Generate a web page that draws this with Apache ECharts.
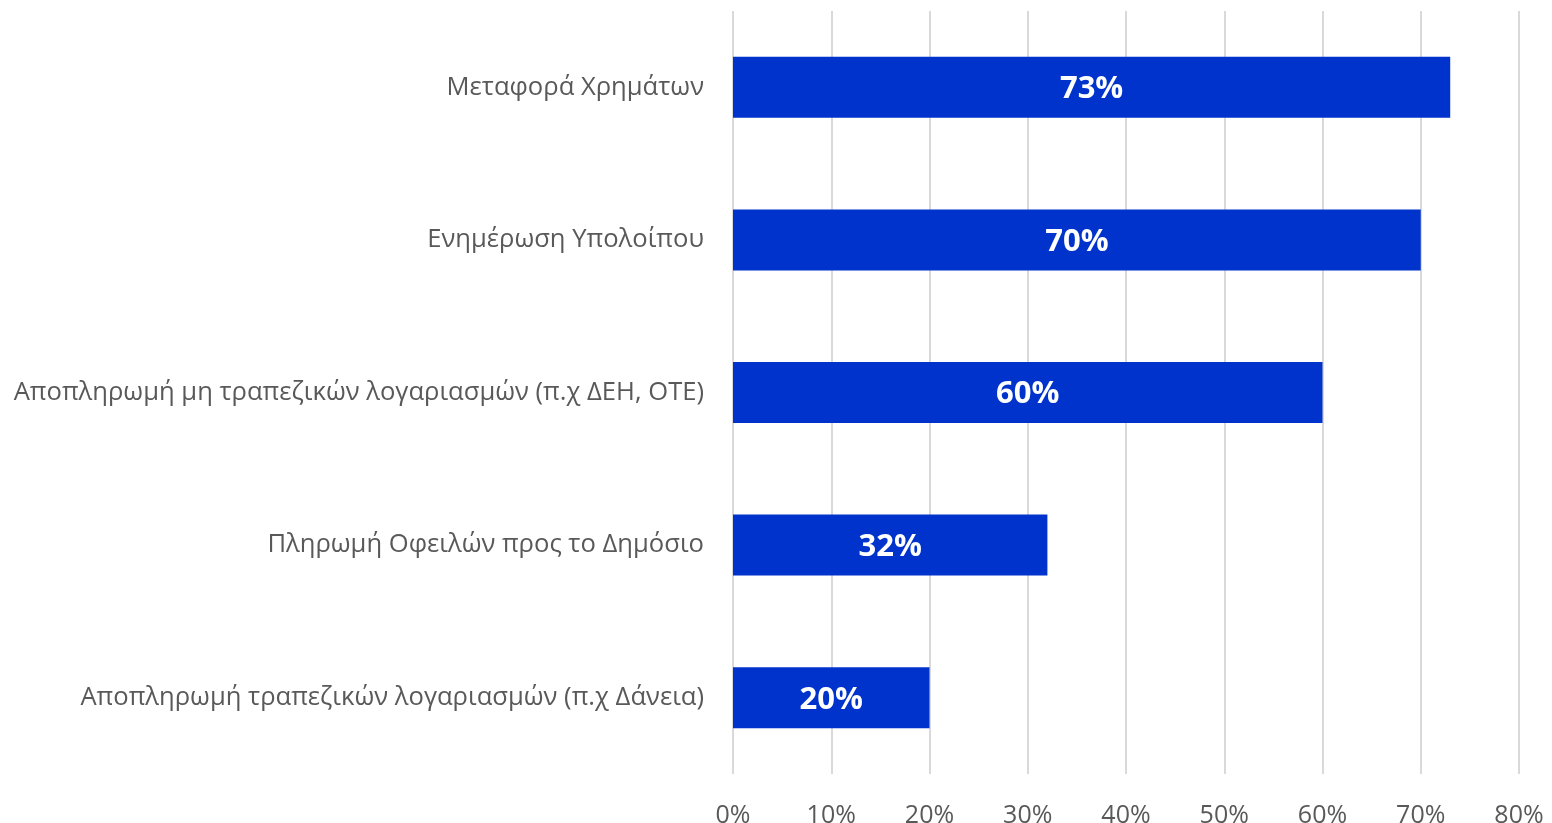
<!DOCTYPE html>
<html>
<head>
<meta charset="utf-8">
<script src="https://cdn.jsdelivr.net/npm/echarts@6/dist/echarts.min.js"></script>
<style>
  html, body { margin: 0; padding: 0; background: #fff; }
  #chart { width: 1552px; height: 823px; }
</style>
</head>
<body>
<div id="chart"></div>
<script>
const categories = [
  'Μεταφορά Χρημάτων',
  'Ενημέρωση Υπολοίπου',
  'Αποπληρωμή μη τραπεζικών λογαριασμών (π.χ ΔΕΗ, ΟΤΕ)',
  'Πληρωμή Οφειλών προς το Δημόσιο',
  'Αποπληρωμή τραπεζικών λογαριασμών (π.χ Δάνεια)'
];
const values = [73, 70, 60, 32, 20];

const chart = echarts.init(document.getElementById('chart'));
chart.setOption({
  animation: false,
  grid: { left: 733, right: 33, top: 11, bottom: 49, outerBoundsMode: 'none' },
  xAxis: {
    type: 'value',
    min: 0,
    max: 80,
    interval: 10,
    axisLine: { show: false },
    axisTick: { show: false },
    axisLabel: {
      formatter: '{value}%',
      color: '#595959',
      fontFamily: 'Open Sans',
      fontSize: 25,
      margin: 29
    },
    splitLine: { lineStyle: { color: '#d9d9d9', width: 2 } }
  },
  yAxis: {
    type: 'category',
    data: categories,
    inverse: true,
    axisLine: { show: false },
    axisTick: { show: false },
    axisLabel: {
      color: '#595959',
      fontFamily: 'Open Sans',
      fontSize: 25.6,
      margin: 29
    }
  },
  series: [{
    type: 'bar',
    data: values,
    barWidth: 61,
    itemStyle: { color: '#0033CC' },
    label: {
      show: true,
      position: 'inside',
      offset: [0, 2],
      formatter: '{c}%',
      color: '#fff',
      fontFamily: 'Open Sans',
      fontWeight: 'bold',
      fontSize: 31
    }
  }]
});
</script>
</body>
</html>
